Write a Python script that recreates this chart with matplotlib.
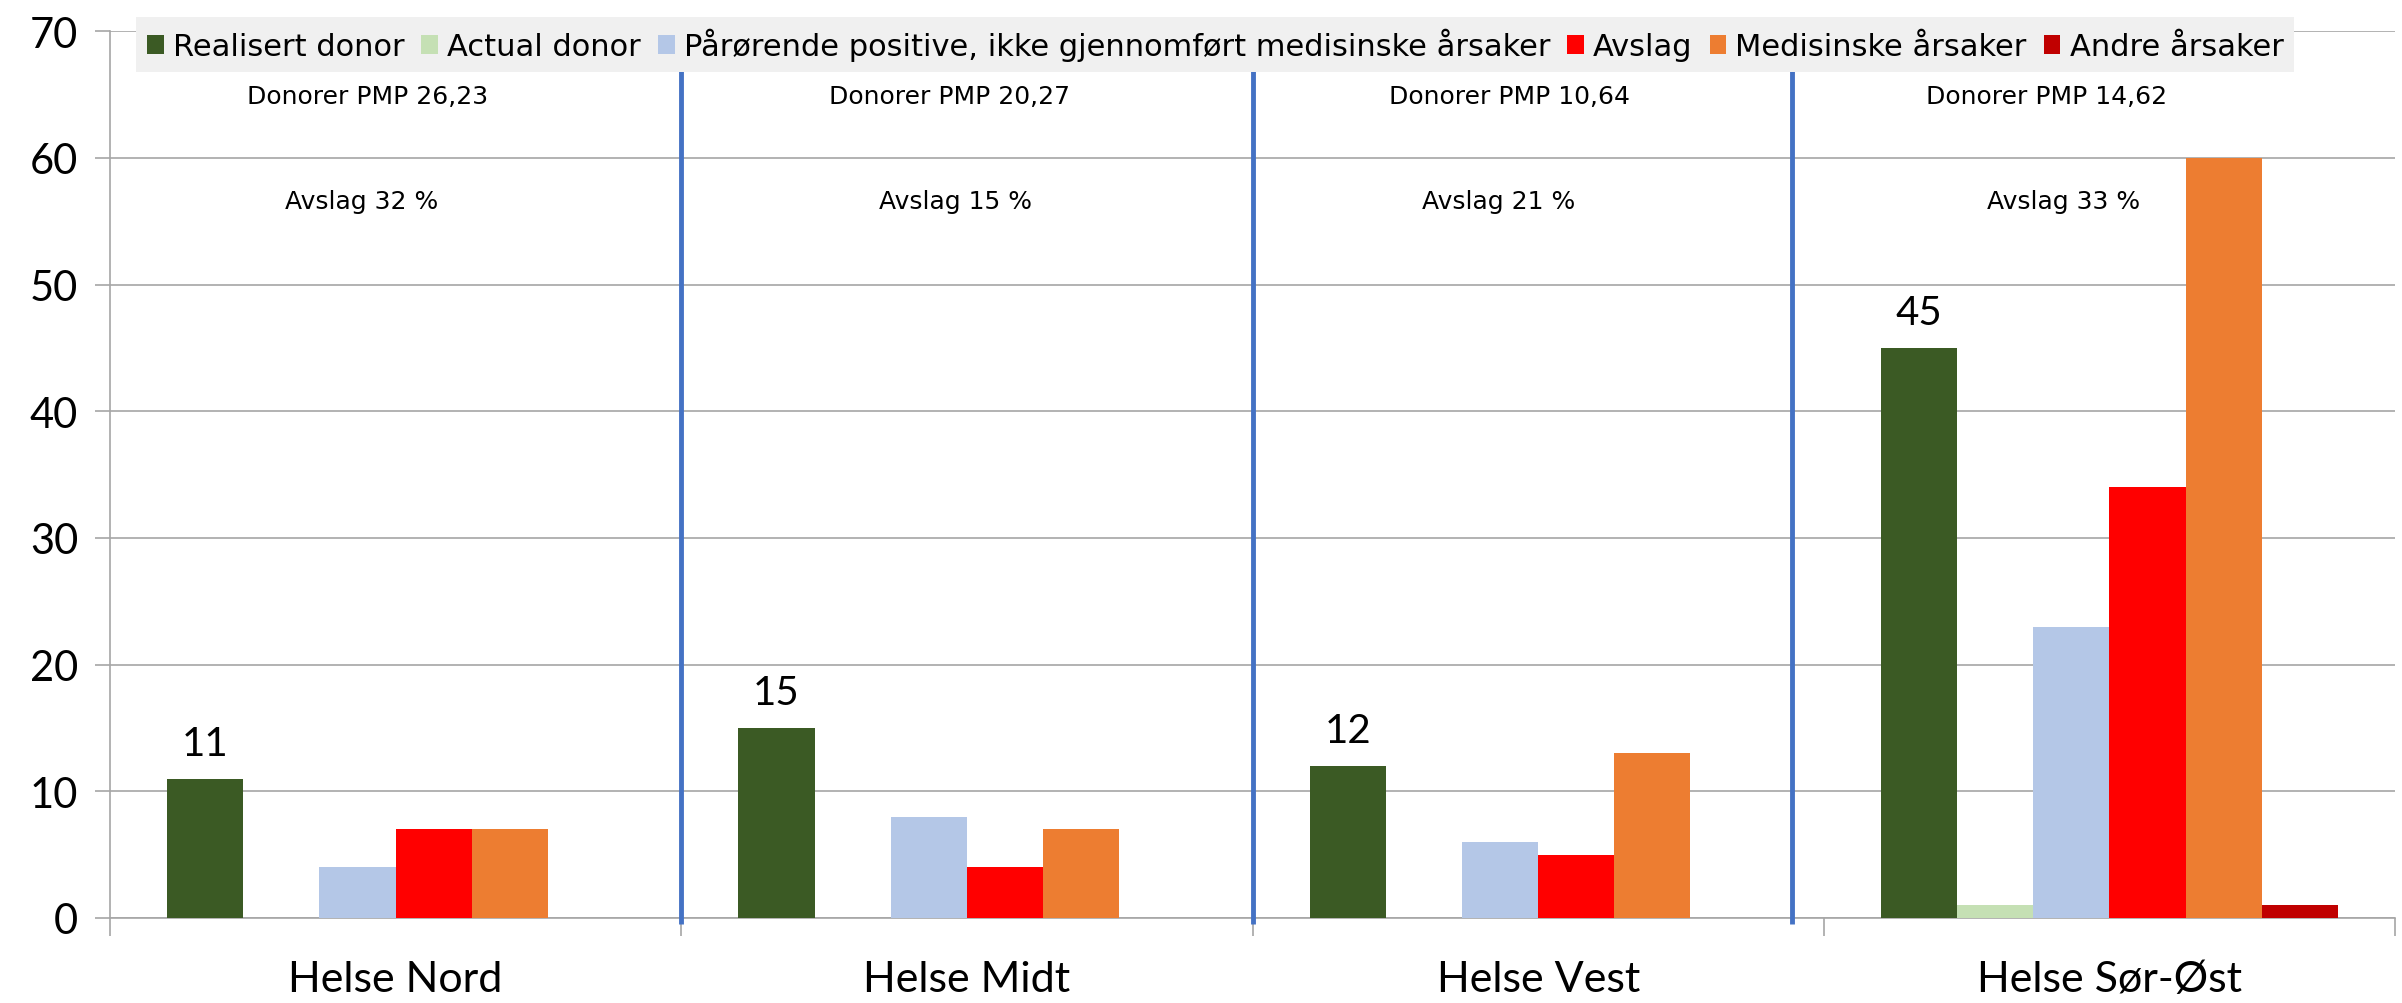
import numpy as np
import matplotlib.pyplot as plt
from matplotlib.patches import Patch

# data
regions = ['Helse Nord', 'Helse Midt', 'Helse Vest', 'Helse Sør-Øst']
series_names = ['Realisert donor', 'Actual donor',
                'Pårørende positive, ikke gjennomført medisinske årsaker',
                'Avslag', 'Medisinske årsaker', 'Andre årsaker']
realisert = [11, 15, 12, 45]
actual = [0, 0, 0, 1]
paarorende = [4, 8, 6, 23]
avslag = [7, 4, 5, 34]
medisinske = [7, 7, 13, 60]
andre = [0, 0, 0, 1]
pmp_notes = ['Donorer PMP 26,23', 'Donorer PMP 20,27', 'Donorer PMP 10,64', 'Donorer PMP 14,62']
avslag_notes = ['Avslag 32 %', 'Avslag 15 %', 'Avslag 21 %', 'Avslag 33 %']

colors = ['#3b5a24', '#c5e0b4', '#b4c7e7', '#ff0000', '#ed7d31', '#c00000']
grid_c = '#a6a6a6'
calibri = ['Lato', 'DejaVu Sans']
gothic = ['DejaVu Sans']

fig = plt.figure(figsize=(24.02, 10.04), dpi=100)
ax = fig.add_axes([0.0458, 0.0847, 0.9513, 0.8833])

values = [realisert, actual, paarorende, avslag, medisinske, andre]
x = np.arange(len(regions))
w = 1 / 7.5
bars = []
for i, vals in enumerate(values):
    b = ax.bar(x + (i - 2.5) * w, vals, width=w, color=colors[i], zorder=3)
    bars.append(b)
ax.bar_label(bars[0], labels=[str(v) for v in realisert], padding=12,
             fontsize=29, family=calibri, zorder=4)

# note texts inside each region
note_x = [-0.05, 0.97, 1.95, 2.89]
note2_x = [-0.06, 0.98, 1.93, 2.92]
for i in range(len(regions)):
    ax.text(note_x[i], 64.9, pmp_notes[i], ha='center', va='center', fontsize=18, family=gothic)
    ax.text(note2_x[i], 56.6, avslag_notes[i], ha='center', va='center', fontsize=18, family=gothic)

# blue separator lines
for xs in [0.5, 1.5, 2.444]:
    ax.plot([xs, xs], [-0.5, 68], color='#4472c4', lw=3.5, zorder=5, clip_on=False,
            solid_capstyle='butt')

ax.set_xlim(-0.5, 3.5)
ax.set_ylim(0, 70)
ax.set_yticks(range(0, 71, 10))
ax.yaxis.grid(True, color=grid_c, lw=1.2, zorder=0)
ax.set_axisbelow(True)
for s in ['top', 'right']:
    ax.spines[s].set_visible(False)
ax.spines['left'].set_color(grid_c)
ax.spines['bottom'].set_color(grid_c)
ax.spines['left'].set_linewidth(1.2)
ax.spines['bottom'].set_linewidth(1.2)
ax.tick_params(axis='y', length=11, color=grid_c, width=1.2, pad=12)
for t in ax.get_yticklabels():
    t.set_fontsize(30)
    t.set_family(calibri)

ax.set_xticks(x)
ax.set_xticklabels(regions, fontsize=31, family=calibri)
ax.tick_params(axis='x', which='major', length=0, pad=30)
ax.set_xticks(np.arange(-0.5, 3.6, 1), minor=True)
ax.tick_params(axis='x', which='minor', length=13, color=grid_c, width=1.2)

handles = [Patch(facecolor=c) for c in colors]
leg = fig.legend(handles, series_names, loc='upper left', bbox_to_anchor=(0.0504, 0.997),
                 ncol=6, frameon=True, fancybox=False,
                 handlelength=0.55, handleheight=0.55, handletextpad=0.3, columnspacing=0.55,
                 borderpad=0.35, prop={'family': gothic, 'size': 22})
leg.get_frame().set_facecolor('#f0f0f0')
leg.get_frame().set_edgecolor('none')
leg.get_frame().set_alpha(1)
leg.set_zorder(10)

fig.savefig('out.png', dpi=100)
